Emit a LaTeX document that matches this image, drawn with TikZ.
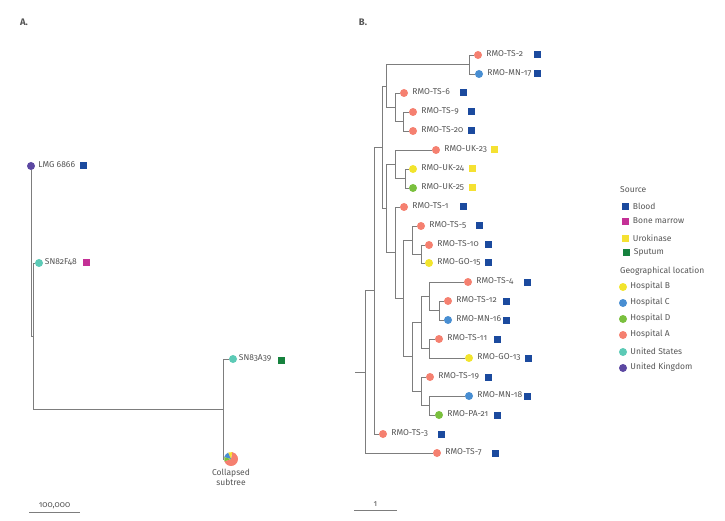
\documentclass[tikz,border=0pt]{standalone}
\usepackage{fontspec}
\setmainfont{Fira Sans}[Numbers=OldStyle]
\definecolor{linegray}{RGB}{125,125,125}
\definecolor{textgray}{RGB}{85,85,85}
\definecolor{blood}{RGB}{27,74,158}
\definecolor{marrow}{RGB}{196,48,150}
\definecolor{uro}{RGB}{245,225,50}
\definecolor{sputum}{RGB}{22,130,62}
\definecolor{hospB}{RGB}{242,228,45}
\definecolor{hospC}{RGB}{72,142,210}
\definecolor{hospD}{RGB}{122,192,62}
\definecolor{hospA}{RGB}{245,128,112}
\definecolor{usa}{RGB}{92,202,182}
\definecolor{ukd}{RGB}{92,72,162}
\begin{document}
\begin{tikzpicture}[x=1pt,y=-1pt,
  branch/.style={draw=linegray, line width=0.8pt},
  dot/.style={circle, inner sep=0pt, minimum size=8pt},
  sq/.style={rectangle, inner sep=0pt, minimum size=7pt},
  lab/.style={anchor=west, inner sep=0pt, yshift=1pt, font=\fontsize{8.5}{10}\selectfont, text=textgray},
  head/.style={anchor=west, inner sep=0pt, font=\fontsize{8.5}{10}\selectfont, text=textgray},
  panel/.style={inner sep=0pt, font=\fontsize{9.5}{11}\selectfont\bfseries, text=textgray}]
\useasboundingbox (0,0) rectangle (725,521);
\node[panel] (pa) at (24,22) {A.};
\node[panel] (pb) at (363,22) {B.};
% panel A
\node[dot,fill=ukd] (lmg) at (31,166) {};
\node[lab] (lmgt) at ([xshift=3pt]lmg.east) {LMG 6866};
\node[sq,fill=blood] (lmgs) at (83,166) {};
\node[dot,fill=usa] (sn82) at (39,263) {};
\node[lab] (sn82t) at ([xshift=1.5pt]sn82.east) {SN82F48};
\node[sq,fill=marrow] (sn82s) at (86,263) {};
\node[dot,fill=usa] (sn83) at (233,359) {};
\node[lab] (sn83t) at ([xshift=1.5pt]sn83.east) {SN83A39};
\node[sq,fill=sputum] (sn83s) at (281,360) {};
\node[dot,minimum size=14pt] (pie) at (231,459) {};
\node[head,anchor=north,align=center] (piet) at ([yshift=-3pt]pie.south) {Collapsed\\subtree};
\coordinate (a0) at (31,251);
\coordinate (a1) at (33,336);
\coordinate (a2) at (223,409);
\draw[branch] (a0) -- (lmg);
\draw[branch] (a0) |- (a1);
\draw[branch] (a1) |- (sn82);
\draw[branch] (a1) |- (a2);
\draw[branch] (a2) |- (sn83);
\draw[branch] (a2) |- (pie);
\fill[hospA] (pie.center) -- ++(200:7pt) arc[start angle=200, end angle=440, radius=7pt] -- cycle;
\fill[uro] (pie.center) -- ++(80:7pt) arc[start angle=80, end angle=115, radius=7pt] -- cycle;
\fill[hospC] (pie.center) -- ++(115:7pt) arc[start angle=115, end angle=165, radius=7pt] -- cycle;
\fill[hospD] (pie.center) -- ++(165:7pt) arc[start angle=165, end angle=200, radius=7pt] -- cycle;
\coordinate (sa1) at (29,512);
\coordinate (sa2) at (80,512);
\draw[linegray,line width=0.8pt] (sa1) -- (sa2) node[head,anchor=south,midway,yshift=3pt] (sat) {100,000};
% panel B leaves
\node[dot,fill=hospA] (ts2) at (478,55) {}; \node[lab] (ts2t) at ([xshift=4pt]ts2.east) {RMO-TS-2}; \node[sq,fill=blood] (ts2s) at (537,55) {};
\node[dot,fill=hospC] (mn17) at (479,74) {}; \node[lab] (mn17t) at ([xshift=4pt]mn17.east) {RMO-MN-17}; \node[sq,fill=blood] (mn17s) at (537,74) {};
\node[dot,fill=hospA] (ts6) at (404,93) {}; \node[lab] (ts6t) at ([xshift=4pt]ts6.east) {RMO-TS-6}; \node[sq,fill=blood] (ts6s) at (463,93) {};
\node[dot,fill=hospA] (ts9) at (413,112) {}; \node[lab] (ts9t) at ([xshift=4pt]ts9.east) {RMO-TS-9}; \node[sq,fill=blood] (ts9s) at (471,112) {};
\node[dot,fill=hospA] (ts20) at (413,131) {}; \node[lab] (ts20t) at ([xshift=4pt]ts20.east) {RMO-TS-20}; \node[sq,fill=blood] (ts20s) at (471,131) {};
\node[dot,fill=hospA] (uk23) at (436,150) {}; \node[lab] (uk23t) at ([xshift=4pt]uk23.east) {RMO-UK-23}; \node[sq,fill=uro] (uk23s) at (494,150) {};
\node[dot,fill=hospB] (uk24) at (413,169) {}; \node[lab] (uk24t) at ([xshift=4pt]uk24.east) {RMO-UK-24}; \node[sq,fill=uro] (uk24s) at (472,169) {};
\node[dot,fill=hospD] (uk25) at (413,188) {}; \node[lab] (uk25t) at ([xshift=4pt]uk25.east) {RMO-UK-25}; \node[sq,fill=uro] (uk25s) at (472,188) {};
\node[dot,fill=hospA] (ts1) at (404,207) {}; \node[lab] (ts1t) at ([xshift=4pt]ts1.east) {RMO-TS-1}; \node[sq,fill=blood] (ts1s) at (463,207) {};
\node[dot,fill=hospA] (ts5) at (421,226) {}; \node[lab] (ts5t) at ([xshift=4pt]ts5.east) {RMO-TS-5}; \node[sq,fill=blood] (ts5s) at (479,226) {};
\node[dot,fill=hospA] (ts10) at (429,245) {}; \node[lab] (ts10t) at ([xshift=4pt]ts10.east) {RMO-TS-10}; \node[sq,fill=blood] (ts10s) at (488,245) {};
\node[dot,fill=hospB] (go15) at (429,263) {}; \node[lab] (go15t) at ([xshift=4pt]go15.east) {RMO-GO-15}; \node[sq,fill=blood] (go15s) at (488,263) {};
\node[dot,fill=hospA] (ts4) at (468,282) {}; \node[lab] (ts4t) at ([xshift=4pt]ts4.east) {RMO-TS-4}; \node[sq,fill=blood] (ts4s) at (527,282) {};
\node[dot,fill=hospA] (ts12) at (448,301) {}; \node[lab] (ts12t) at ([xshift=4pt]ts12.east) {RMO-TS-12}; \node[sq,fill=blood] (ts12s) at (506,301) {};
\node[dot,fill=hospC] (mn16) at (448,320) {}; \node[lab] (mn16t) at ([xshift=4pt]mn16.east) {RMO-MN-16}; \node[sq,fill=blood] (mn16s) at (506,320) {};
\node[dot,fill=hospA] (ts11) at (439,339) {}; \node[lab] (ts11t) at ([xshift=4pt]ts11.east) {RMO-TS-11}; \node[sq,fill=blood] (ts11s) at (497,339) {};
\node[dot,fill=hospB] (go13) at (469,358) {}; \node[lab] (go13t) at ([xshift=4pt]go13.east) {RMO-GO-13}; \node[sq,fill=blood] (go13s) at (528,358) {};
\node[dot,fill=hospA] (ts19) at (430,377) {}; \node[lab] (ts19t) at ([xshift=4pt]ts19.east) {RMO-TS-19}; \node[sq,fill=blood] (ts19s) at (488,377) {};
\node[dot,fill=hospC] (mn18) at (469,396) {}; \node[lab] (mn18t) at ([xshift=4pt]mn18.east) {RMO-MN-18}; \node[sq,fill=blood] (mn18s) at (527,396) {};
\node[dot,fill=hospD] (pa21) at (439,415) {}; \node[lab] (pa21t) at ([xshift=4pt]pa21.east) {RMO-PA-21}; \node[sq,fill=blood] (pa21s) at (497,415) {};
\node[dot,fill=hospA] (ts3) at (383,434) {}; \node[lab] (ts3t) at ([xshift=4pt]ts3.east) {RMO-TS-3}; \node[sq,fill=blood] (ts3s) at (441,434) {};
\node[dot,fill=hospA] (ts7) at (437,453) {}; \node[lab] (ts7t) at ([xshift=4pt]ts7.east) {RMO-TS-7}; \node[sq,fill=blood] (ts7s) at (495,453) {};
% panel B inner nodes
\coordinate (c1) at (469,64.5);
\coordinate (c2) at (403,121.5);
\coordinate (c3) at (395,107);
\coordinate (c4) at (386,86);
\coordinate (c5) at (405,178.5);
\coordinate (c6) at (395,164);
\coordinate (c7) at (421,254);
\coordinate (c8) at (412,240);
\coordinate (c9) at (439,310.5);
\coordinate (c10) at (429,296);
\coordinate (c11) at (429,348.5);
\coordinate (c12) at (421,322);
\coordinate (c13) at (429,405.5);
\coordinate (c14) at (421,391);
\coordinate (c15) at (412,356.5);
\coordinate (c16) at (403,298);
\coordinate (c17) at (395,252.5);
\coordinate (c18) at (386,208);
\coordinate (c19) at (382,147);
\coordinate (c20) at (374,290.5);
\coordinate (root) at (365,372);
\coordinate (stub) at (355,372);
\draw[branch] (c1) |- (ts2); \draw[branch] (c1) |- (mn17);
\draw[branch] (c2) |- (ts9); \draw[branch] (c2) |- (ts20);
\draw[branch] (c3) |- (ts6); \draw[branch] (c3) |- (c2);
\draw[branch] (c4) |- (c1); \draw[branch] (c4) |- (c3);
\draw[branch] (c5) |- (uk24); \draw[branch] (c5) |- (uk25);
\draw[branch] (c6) |- (uk23); \draw[branch] (c6) |- (c5);
\draw[branch] (c7) |- (ts10); \draw[branch] (c7) |- (go15);
\draw[branch] (c8) |- (ts5); \draw[branch] (c8) |- (c7);
\draw[branch] (c9) |- (ts12); \draw[branch] (c9) |- (mn16);
\draw[branch] (c10) |- (ts4); \draw[branch] (c10) |- (c9);
\draw[branch] (c11) |- (ts11); \draw[branch] (c11) |- (go13);
\draw[branch] (c12) |- (c10); \draw[branch] (c12) |- (c11);
\draw[branch] (c13) |- (mn18); \draw[branch] (c13) |- (pa21);
\draw[branch] (c14) |- (ts19); \draw[branch] (c14) |- (c13);
\draw[branch] (c15) |- (c12); \draw[branch] (c15) |- (c14);
\draw[branch] (c16) |- (c8); \draw[branch] (c16) |- (c15);
\draw[branch] (c17) |- (ts1); \draw[branch] (c17) |- (c16);
\draw[branch] (c18) |- (c6); \draw[branch] (c18) |- (c17);
\draw[branch] (c19) |- (c4); \draw[branch] (c19) |- (c18);
\draw[branch] (c20) |- (c19); \draw[branch] (c20) |- (ts3);
\draw[branch] (root) |- (c20); \draw[branch] (root) |- (ts7);
\draw[branch] (stub) -- (root);
\coordinate (sb1) at (354,510);
\coordinate (sb2) at (397,510);
\draw[linegray,line width=0.8pt] (sb1) -- (sb2) node[head,anchor=south,midway,yshift=3pt] (sbt) {1};
% legend
\node[head] (lsrc) at (620,190) {Source};
\node[sq,fill=blood] (lg1) at (625,207) {}; \node[lab] (lg1t) at ([xshift=4pt]lg1.east) {Blood};
\node[sq,fill=marrow] (lg2) at (625,222) {}; \node[lab] (lg2t) at ([xshift=4pt]lg2.east) {Bone marrow};
\node[sq,fill=uro] (lg3) at (625,239) {}; \node[lab] (lg3t) at ([xshift=4pt]lg3.east) {Urokinase};
\node[sq,fill=sputum] (lg4) at (626,253) {}; \node[lab] (lg4t) at ([xshift=4pt]lg4.east) {Sputum};
\node[head] (lgeo) at (620,271) {Geographical location};
\node[dot,fill=hospB] (lg5) at (623,287) {}; \node[lab] (lg5t) at ([xshift=3pt]lg5.east) {Hospital B};
\node[dot,fill=hospC] (lg6) at (623,303) {}; \node[lab] (lg6t) at ([xshift=3pt]lg6.east) {Hospital C};
\node[dot,fill=hospD] (lg7) at (623,319) {}; \node[lab] (lg7t) at ([xshift=3pt]lg7.east) {Hospital D};
\node[dot,fill=hospA] (lg8) at (623,335) {}; \node[lab] (lg8t) at ([xshift=3pt]lg8.east) {Hospital A};
\node[dot,fill=usa] (lg9) at (623,352) {}; \node[lab] (lg9t) at ([xshift=3pt]lg9.east) {United States};
\node[dot,fill=ukd] (lg10) at (623,368) {}; \node[lab] (lg10t) at ([xshift=3pt]lg10.east) {United Kingdom};
\end{tikzpicture}
\end{document}
